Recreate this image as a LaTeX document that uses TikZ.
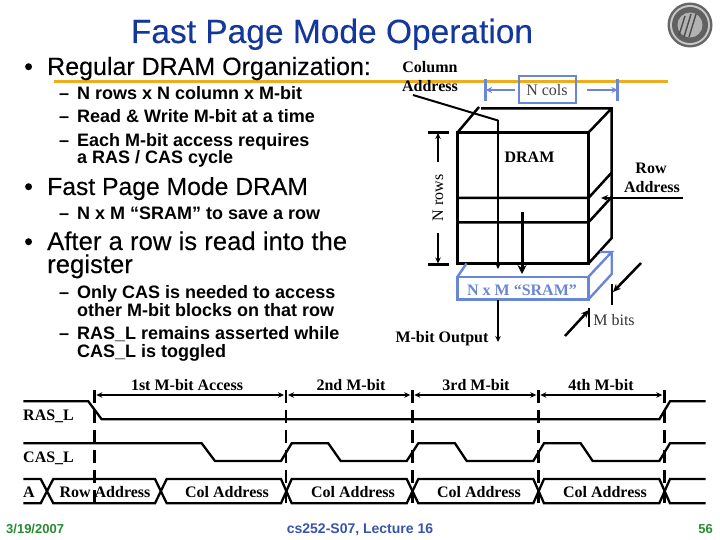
\documentclass[tikz,border=0pt]{standalone}
\usepackage{fontspec}
\setmainfont{Liberation Serif}
\setsansfont{Liberation Sans}
\newfontfamily\medsans[FakeBold=0.15]{Liberation Sans}
\usetikzlibrary{arrows.meta}
\definecolor{titleblue}{RGB}{20,55,155}
\definecolor{orangeline}{RGB}{238,172,30}
\definecolor{sramblue}{RGB}{105,135,215}
\definecolor{footgreen}{RGB}{40,140,50}
\tikzset{
 big/.style={anchor=base west,inner sep=0pt,font=\medsans\fontsize{25}{25}\selectfont,text=black},
 sub/.style={anchor=base west,inner sep=0pt,font=\sffamily\bfseries\fontsize{18}{18}\selectfont,text=black},
 lab/.style={inner sep=0pt,font=\rmfamily\fontsize{16}{16}\selectfont},
 blab/.style={inner sep=0pt,font=\rmfamily\bfseries\fontsize{16}{16}\selectfont},
 thick3/.style={line width=2.5pt,black},
 wave/.style={line width=2.3pt,black},
 thin1/.style={line width=1.5pt,black},
 sram/.style={line width=2.4pt,sramblue},
 dashv/.style={line width=2.7pt,black,dash pattern=on 13pt off 7pt},
 arr/.style={line width=1.5pt,black,-{Stealth[length=6pt,width=5.5pt]}},
 darr/.style={line width=1.5pt,black,{Stealth[length=6pt,width=5.5pt]}-{Stealth[length=6pt,width=5.5pt]}},
 barr/.style={line width=2pt,sramblue,-{Stealth[length=6pt,width=6pt]}},
}
\begin{document}
\begin{tikzpicture}[x=1pt,y=-1pt]
\useasboundingbox (0,0) rectangle (720,540);
\fill[white] (0,0) rectangle (720,540);
% orange rule
\coordinate (oa) at (54,81.5); \coordinate (ob) at (668,81.5);
\draw[orangeline,line width=3pt] (oa) -- (ob);
% logo
\node[circle,fill=black!60,minimum size=45pt,inner sep=0pt] (logo) at (690,25) {};
\node[circle,fill=black!22,minimum size=40pt,inner sep=0pt] at (logo) {};
\node[circle,fill=black!62,minimum size=36pt,inner sep=0pt] at (logo) {};
\node[circle,fill=black!30,minimum size=25pt,inner sep=0pt] at (logo) {};
\draw[black!70,line width=1.4pt] (684,37) -- (691,14) (689,37) -- (696,14) (679,35) -- (685,16);
% title and bullets
\node[anchor=base,inner sep=0pt,font=\medsans\fontsize{33.5}{34}\selectfont,text=titleblue] (title) at (332,43) {Fast Page Mode Operation};
\node[big] (b1) at (24,75) {•};
\node[big] (t1) at (47,75) {Regular DRAM Organization:};
\node[sub] (s1a) at (59,100) {–}; \node[sub] (s1) at (77,100) {N rows x N column x M-bit};
\node[sub] (s2a) at (59,123) {–}; \node[sub] (s2) at (77,123) {Read \& Write M-bit at a time};
\node[sub] (s3a) at (59,147) {–}; \node[sub] (s3) at (77,147) {Each M-bit access requires};
\node[sub] (s3b) at (77,164) {a RAS / CAS cycle};
\node[big] (b2) at (24,195) {•};
\node[big,font=\medsans\fontsize{24.7}{25}\selectfont] (t2) at (47,195) {Fast Page Mode DRAM};
\node[sub] (s4a) at (59,220) {–}; \node[sub] (s4) at (77,220) {N x M “SRAM” to save a row};
\node[big] (b3) at (24,250) {•};
\node[big,align=left,font=\medsans\fontsize{25.7}{23}\selectfont] (t3) at (47,273) {After a row is read into the\\register};
\node[sub] (s5a) at (59,298) {–}; \node[sub] (s5) at (77,298) {Only CAS is needed to access};
\node[sub] (s5b) at (77,316) {other M-bit blocks on that row};
\node[sub] (s6a) at (59,339) {–}; \node[sub] (s6) at (77,339) {RAS\_L remains asserted while};
\node[sub] (s6b) at (77,357) {CAS\_L is toggled};
% DRAM cube
\coordinate (fa) at (457.5,132.5); \coordinate (fb) at (588.5,132.5);
\coordinate (fc) at (588.5,263.5); \coordinate (fd) at (457.5,263.5);
\coordinate (ba) at (479,107); \coordinate (bq) at (481,108.3); \coordinate (bb) at (611.7,108.3);
\coordinate (bc) at (611.7,238); \coordinate (r1a) at (457.5,198); \coordinate (r1b) at (588.5,198);
\coordinate (r2a) at (457.5,222.3); \coordinate (r2b) at (588.5,222.3);
\coordinate (r1c) at (611.7,172.5); \coordinate (r2c) at (611.7,197);
\draw[thick3] (fa) rectangle (fc);
\draw[thick3] (fa) -- (ba) (bq) -- (bb) -- (bc) -- (fc) (fb) -- (bb);
\draw[thick3] (r1a) -- (r1b) -- (r1c) (r2a) -- (r2b) -- (r2c);
\node[blab] (dram) at (529.5,157.5) {DRAM};
% SRAM block
\coordinate (sa) at (457.5,276.7); \coordinate (sb) at (588.5,276.7);
\coordinate (sc) at (588.5,299.3); \coordinate (sd) at (457.5,299.3);
\coordinate (sbk) at (611.7,252); \coordinate (sbl) at (600,252);
\coordinate (sbm) at (611.7,274); \coordinate (stl) at (466.5,263.5);
\draw[sram] (sa) rectangle (sc);
\draw[sram] (sa) -- (stl) (sb) -- (sbk) -- (sbl) (sbk) -- (sbm) -- (sc);
\node[blab,text=sramblue] (srt) at (522,290) {N x M “SRAM”};
% N cols
\node[draw=sramblue,line width=2pt,minimum width=57pt,minimum height=27pt,inner sep=0pt,lab,text=black!75] (ncols) at (547,90) {N cols};
\coordinate (cl) at (486,90); \coordinate (cr) at (617.5,90);
\coordinate (cl1) at (485.5,79); \coordinate (cl2) at (485.5,101);
\coordinate (cr1) at (617.5,79); \coordinate (cr2) at (617.5,101);
\coordinate (nl) at (515,90); \coordinate (nr) at (586.5,90);
\draw[sramblue,line width=2.2pt] (cl1) -- (cl2) (cr1) -- (cr2);
\draw[barr] (nl) -- (cl); \draw[barr] (nr) -- (cr);
% Column address
\node[blab,anchor=base] (cola) at (430,73) {Column};
\node[blab,anchor=base] (colb) at (430,91.5) {Address};
\coordinate (cw) at (413,95); \coordinate (ce) at (498,120.5); \coordinate (cd) at (498,269);
\draw[thin1,line width=2pt] (cw) -- (ce);
\draw[arr] (ce) -- (cd);
% N rows
\coordinate (rt1) at (428,132.5); \coordinate (rt2) at (449,132.5);
\coordinate (rb1) at (428,264.5); \coordinate (rb2) at (449,264.5);
\coordinate (ry) at (438,133); \coordinate (rz) at (438,263.5);
\coordinate (ry2) at (438,162); \coordinate (rz2) at (438,233);
\draw[thick3] (rt1) -- (rt2) (rb1) -- (rb2);
\draw[arr] (ry2) -- (ry); \draw[arr] (rz2) -- (rz);
\node[lab,rotate=90] (nrows) at (438,198) {N rows};
% read arrow
\coordinate (rdt) at (522,212); \coordinate (rdb) at (522,274);
\draw[line width=3pt,black,-{Stealth[length=9pt,width=9pt]}] (rdt) -- (rdb);
% Row address
\node[blab,anchor=base] (rowa) at (651,174) {Row};
\node[blab,anchor=base] (rowb) at (652,193) {Address};
\coordinate (raw) at (683,198); \coordinate (rae) at (601,198);
\draw[line width=2pt,black,-{Stealth[length=7pt,width=6pt]}] (raw) -- (rae);
% output
\coordinate (ot) at (498,300); \coordinate (ob2) at (498,342);
\draw[arr] (ot) -- (ob2);
\node[blab,anchor=base] (mout) at (442,342) {M-bit Output};
% M bits
\coordinate (ma1) at (641,263); \coordinate (ma2) at (613,292);
\coordinate (mb1) at (565,336); \coordinate (mb2) at (589,310);
\coordinate (mc1) at (612,284); \coordinate (mc2) at (612,305);
\coordinate (md1) at (589,308); \coordinate (md2) at (589,327);
\draw[line width=2.5pt,black,-{Stealth[length=8pt,width=7pt]}] (ma1) -- (ma2);
\draw[line width=2.5pt,black,-{Stealth[length=8pt,width=7pt]}] (mb1) -- (mb2);
\draw[thick3] (mc1) -- (mc2) (md1) -- (md2);
\node[lab,anchor=base,text=black!80] (mbits) at (614,325) {M bits};
% timing headers
\node[blab,anchor=base] (h1) at (187,390) {1st M-bit Access};
\node[blab,anchor=base] (h2) at (351,390) {2nd M-bit};
\node[blab,anchor=base] (h3) at (476,390) {3rd M-bit};
\node[blab,anchor=base] (h4) at (601,390) {4th M-bit};
% guides
\foreach \n/\x in {g1/94.3,g2/286,g3/412.3,g4/538.3,g5/664.3}{
 \coordinate (\n t) at (\x,390); \coordinate (\n b) at (\x,510); \coordinate (\n m) at (\x,395);
}
\draw[dashv] (g1t) -- (g1b); \draw[dashv] (g2t) -- (g2b); \draw[dashv] (g3t) -- (g3b);
\draw[dashv] (g4t) -- (g4b); \draw[dashv] (g5t) -- (g5b);
\foreach \a/\b in {g1/g2,g2/g3,g3/g4,g4/g5}{
 \draw[darr] ([xshift=2pt]\a m) -- ([xshift=-2pt]\b m);
}
% signals
\draw[wave] (23.3,401.3) -- (88.3,401.3) -- (101.7,419.3) -- (659.3,419.3) -- (670,401.3) -- (705.7,401.3);
\draw[wave] (23.3,443.3) -- (201.7,443.3) -- (215,461) -- (281,461) -- (291.7,443.3) -- (328.3,443.3) -- (340.7,461) -- (406.7,461) -- (418.3,443.3) -- (455,443.3) -- (466.7,461) -- (533.3,461) -- (544,443.3) -- (580.7,443.3) -- (592.7,461) -- (659.3,461) -- (670,443.3) -- (705.7,443.3);
\foreach \y/\z in {479/503.3,503.3/479}{
 \draw[wave] (23.3,\y) -- (40.7,\y) -- (53.3,\z) -- (155,\z) -- (166.7,\y) -- (281,\y) -- (291.7,\z) -- (406.7,\z) -- (418.3,\y) -- (533.3,\y) -- (544,\z) -- (659.3,\z) -- (670,\y) -- (705.7,\y);
}
\node[blab,anchor=base west] (ras) at (23,420) {RAS\_L};
\node[blab,anchor=base west] (cas) at (23,462) {CAS\_L};
\node[blab,anchor=base west] (aa) at (23,497) {A};
\node[blab,anchor=base] (ad1) at (105,497) {Row Address};
\node[blab,anchor=base] (ad2) at (227,497) {Col Address};
\node[blab,anchor=base] (ad3) at (353,497) {Col Address};
\node[blab,anchor=base] (ad4) at (479,497) {Col Address};
\node[blab,anchor=base] (ad5) at (605,497) {Col Address};
% footer
\node[anchor=base west,inner sep=0pt,font=\sffamily\bfseries\fontsize{13}{13}\selectfont,text=footgreen] (date) at (6,533) {3/19/2007};
\node[anchor=base,inner sep=0pt,font=\sffamily\bfseries\fontsize{14}{14}\selectfont,text=titleblue!85] (lec) at (360,533) {cs252-S07, Lecture 16};
\node[anchor=base east,inner sep=0pt,font=\sffamily\bfseries\fontsize{13}{13}\selectfont,text=footgreen] (pg) at (713,533) {56};
\end{tikzpicture}
\end{document}
